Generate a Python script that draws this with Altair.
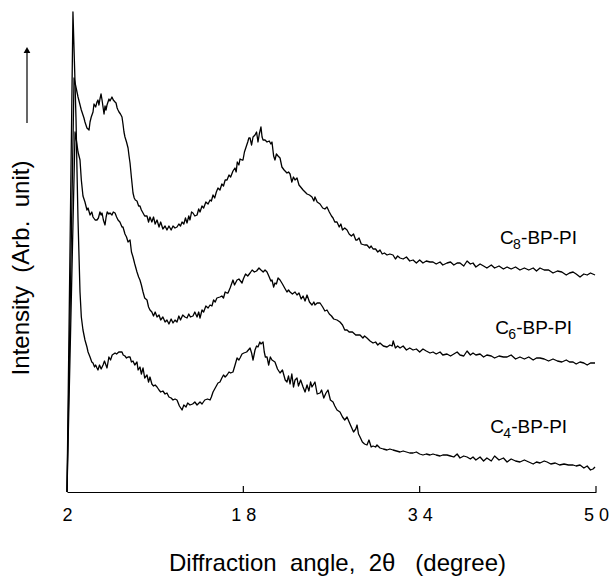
import altair as alt
import pandas as pd

# ---------------- data ----------------
C8_ANGLE = [2.00, 2.64, 3.00, 3.30, 3.54, 3.63, 3.81, 4.00, 4.09, 4.20, 4.36, 4.45, 4.60, 4.72, 4.81, 4.90, 4.99, 5.09, 5.18, 5.27, 5.36, 5.45, 5.54, 5.63, 5.72, 5.81, 5.90, 6.08, 6.20, 6.36, 6.45, 6.55, 6.63, 6.72, 6.85, 6.99, 7.08, 7.17, 7.26, 7.40, 7.54, 7.63, 7.72, 7.85, 7.99, 8.10, 8.20, 8.35, 8.50, 8.62, 8.75, 8.90, 9.05, 9.26, 9.40, 9.53, 9.70, 9.85, 10.00, 10.17, 10.35, 10.50, 10.70, 10.90, 11.07, 11.25, 11.45, 11.62, 11.80, 11.98, 12.15, 12.30, 12.44, 12.60, 12.75, 12.89, 13.05, 13.16, 13.30, 13.43, 13.60, 13.80, 13.95, 14.07, 14.25, 14.40, 14.60, 14.80, 14.98, 15.10, 15.25, 15.40, 15.55, 15.70, 15.88, 16.05, 16.20, 16.35, 16.52, 16.70, 16.85, 17.06, 17.24, 17.35, 17.45, 17.60, 17.70, 17.88, 17.97, 18.10, 18.25, 18.40, 18.50, 18.61, 18.75, 18.88, 19.06, 19.20, 19.33, 19.45, 19.60, 19.70, 19.79, 19.97, 20.15, 20.35, 20.50, 20.60, 20.75, 20.87, 21.00, 21.15, 21.33, 21.50, 21.70, 21.96, 22.10, 22.24, 22.40, 22.55, 22.69, 22.87, 23.05, 23.20, 23.42, 23.60, 23.78, 24.00, 24.23, 24.40, 24.50, 24.70, 24.96, 25.20, 25.40, 25.59, 25.80, 26.00, 26.14, 26.30, 26.50, 26.70, 26.85, 27.00, 27.20, 27.41, 27.60, 27.80, 28.00, 28.20, 28.32, 28.50, 28.70, 29.00, 29.22, 29.45, 29.60, 29.77, 30.00, 30.20, 30.40, 30.60, 30.80, 31.04, 31.30, 31.58, 31.80, 32.00, 32.22, 32.50, 32.80, 33.10, 33.40, 33.70, 34.00, 34.30, 34.60, 34.94, 35.21, 35.50, 35.85, 36.10, 36.48, 36.80, 37.10, 37.40, 37.66, 38.00, 38.30, 38.60, 38.84, 39.10, 39.48, 39.80, 40.10, 40.50, 40.80, 41.20, 41.60, 41.93, 42.30, 42.70, 43.10, 43.50, 43.90, 44.30, 44.60, 44.92, 45.30, 45.70, 46.10, 46.50, 46.90, 47.30, 47.60, 47.92, 48.20, 48.55, 48.90, 49.20, 49.50, 49.91]
C8_INT = [0, 414, 395, 382, 374, 370, 364, 362, 370, 375, 380, 388, 385, 390, 392, 387, 393, 398, 392, 385, 378, 386, 382, 387, 390, 393, 391, 395, 392, 390, 389, 384, 382, 380, 378, 375, 368, 360, 355, 350, 344, 336, 329, 314, 299, 294, 292, 291, 286, 286, 282, 279, 276, 276, 270, 275, 270, 275, 268, 272, 265, 270, 263, 266, 262, 266, 262, 266, 264, 265, 268, 266, 270, 268, 274, 269, 276, 272, 280, 279, 276, 277, 283, 280, 286, 284, 290, 288, 292, 291, 297, 294, 300, 304, 302, 308, 306, 312, 312, 317, 315, 321, 324, 320, 330, 327, 333, 332, 332, 340, 345, 350, 354, 354, 347, 355, 357, 360, 350, 358, 365, 355, 352, 352, 350, 351, 348, 350, 336, 332, 338, 336, 334, 325, 322, 319, 320, 318, 310, 315, 312, 314, 307, 305, 302, 300, 298, 297, 295, 291, 295, 290, 288, 284, 283, 285, 280, 276, 274, 270, 270, 265, 268, 262, 264, 262, 258, 256, 258, 252, 252, 254, 248, 247, 247, 244, 246, 243, 243, 240, 242, 238, 239, 237, 238, 237, 233, 236, 234, 233, 235, 231, 232, 229, 232, 229, 231, 230, 230, 228, 230, 227, 229, 230, 227, 229, 229, 226, 231, 228, 229, 225, 228, 226, 224, 227, 224, 226, 223, 225, 223, 225, 222, 224, 222, 224, 221, 224, 222, 222, 219, 221, 220, 217, 219, 220, 218, 215, 218, 217, 219, 217]

C6_ANGLE = [2.00, 2.73, 2.85, 3.00, 3.18, 3.30, 3.45, 3.63, 3.81, 3.91, 4.09, 4.25, 4.36, 4.55, 4.72, 4.85, 4.99, 5.10, 5.18, 5.30, 5.45, 5.55, 5.65, 5.80, 5.90, 6.08, 6.20, 6.36, 6.50, 6.63, 6.80, 6.99, 7.08, 7.26, 7.40, 7.54, 7.72, 7.85, 7.99, 8.15, 8.35, 8.50, 8.62, 8.75, 8.90, 9.05, 9.26, 9.40, 9.53, 9.70, 9.85, 10.00, 10.17, 10.35, 10.50, 10.70, 10.90, 11.07, 11.25, 11.45, 11.62, 11.80, 11.98, 12.15, 12.30, 12.50, 12.70, 12.89, 13.05, 13.20, 13.43, 13.60, 13.80, 13.95, 14.07, 14.25, 14.40, 14.60, 14.80, 14.98, 15.15, 15.30, 15.45, 15.60, 15.88, 16.05, 16.20, 16.35, 16.52, 16.61, 16.80, 17.06, 17.20, 17.43, 17.60, 17.88, 18.00, 18.20, 18.40, 18.61, 18.80, 19.00, 19.20, 19.42, 19.60, 19.80, 19.97, 20.15, 20.35, 20.50, 20.60, 20.75, 20.87, 21.00, 21.15, 21.33, 21.55, 21.75, 21.96, 22.10, 22.24, 22.45, 22.69, 22.87, 23.05, 23.25, 23.42, 23.60, 23.78, 24.00, 24.23, 24.40, 24.50, 24.70, 24.96, 25.20, 25.40, 25.59, 25.80, 26.00, 26.20, 26.50, 26.77, 27.00, 27.20, 27.41, 27.60, 27.90, 28.20, 28.59, 28.85, 29.00, 29.22, 29.50, 29.77, 30.00, 30.20, 30.40, 30.70, 31.04, 31.30, 31.50, 31.60, 31.80, 32.00, 32.22, 32.50, 32.80, 33.10, 33.40, 33.70, 34.00, 34.30, 34.60, 34.94, 35.21, 35.50, 35.85, 36.10, 36.48, 36.80, 37.10, 37.40, 37.66, 38.00, 38.30, 38.60, 38.84, 39.10, 39.48, 39.80, 40.10, 40.50, 40.80, 41.20, 41.60, 41.93, 42.30, 42.70, 43.10, 43.50, 43.90, 44.30, 44.60, 44.92, 45.30, 45.70, 46.10, 46.50, 46.90, 47.30, 47.60, 47.92, 48.20, 48.55, 48.90, 49.20, 49.50, 49.91]
C6_INT = [0, 360, 352, 340, 332, 312, 296, 290, 282, 284, 277, 280, 275, 272, 272, 274, 280, 277, 279, 272, 267, 275, 280, 278, 279, 277, 280, 279, 275, 272, 270, 265, 265, 258, 255, 250, 252, 240, 235, 228, 220, 215, 212, 207, 200, 194, 192, 185, 182, 180, 176, 180, 175, 177, 172, 175, 170, 172, 168, 173, 169, 172, 170, 176, 172, 177, 175, 174, 178, 175, 176, 180, 175, 180, 174, 182, 180, 186, 184, 187, 186, 192, 190, 194, 195, 196, 194, 200, 199, 199, 204, 212, 207, 212, 213, 209, 213, 218, 216, 219, 222, 220, 221, 224, 222, 220, 222, 220, 215, 211, 212, 205, 209, 208, 214, 212, 208, 204, 200, 202, 200, 198, 200, 197, 199, 193, 196, 191, 197, 190, 187, 190, 187, 189, 189, 185, 181, 182, 178, 176, 173, 172, 170, 167, 162, 162, 160, 160, 157, 157, 154, 156, 154, 151, 149, 150, 147, 149, 146, 145, 147, 146, 151, 144, 146, 144, 146, 142, 144, 142, 143, 140, 143, 141, 139, 140, 138, 140, 137, 138, 136, 138, 140, 137, 136, 141, 137, 139, 137, 138, 135, 137, 136, 134, 136, 135, 135, 137, 133, 135, 133, 135, 132, 134, 134, 133, 131, 133, 131, 130, 132, 130, 130, 128, 130, 129, 127, 129, 129]

C4_ANGLE = [2.00, 2.54, 2.70, 2.82, 2.91, 3.00, 3.10, 3.18, 3.30, 3.45, 3.63, 3.81, 3.91, 4.09, 4.25, 4.36, 4.50, 4.60, 4.72, 4.81, 4.95, 5.10, 5.27, 5.40, 5.63, 5.80, 5.95, 6.10, 6.36, 6.50, 6.70, 6.99, 7.10, 7.26, 7.40, 7.54, 7.72, 7.85, 7.99, 8.15, 8.35, 8.45, 8.62, 8.75, 8.90, 9.05, 9.26, 9.40, 9.53, 9.70, 9.85, 10.00, 10.17, 10.35, 10.50, 10.70, 10.90, 11.07, 11.25, 11.45, 11.62, 11.80, 11.98, 12.20, 12.44, 12.60, 12.80, 12.95, 13.16, 13.40, 13.60, 13.80, 14.07, 14.25, 14.50, 14.75, 14.98, 15.10, 15.25, 15.45, 15.70, 15.88, 16.05, 16.20, 16.35, 16.52, 16.70, 16.85, 17.06, 17.25, 17.43, 17.60, 17.70, 17.88, 18.05, 18.30, 18.61, 18.75, 18.88, 19.06, 19.20, 19.33, 19.50, 19.60, 19.79, 19.90, 20.00, 20.15, 20.30, 20.45, 20.60, 20.87, 21.10, 21.33, 21.55, 21.80, 21.96, 22.10, 22.24, 22.40, 22.55, 22.69, 22.87, 23.00, 23.20, 23.42, 23.60, 23.78, 23.95, 24.10, 24.23, 24.50, 24.70, 24.96, 25.10, 25.30, 25.50, 25.68, 25.90, 26.14, 26.30, 26.50, 26.77, 27.00, 27.20, 27.41, 27.60, 27.80, 28.00, 28.20, 28.32, 28.45, 28.59, 28.80, 29.00, 29.22, 29.40, 29.60, 29.77, 30.00, 30.13, 30.40, 30.70, 31.04, 31.30, 31.58, 31.90, 32.22, 32.50, 32.80, 33.10, 33.40, 33.70, 34.00, 34.30, 34.60, 34.94, 35.21, 35.50, 35.85, 36.10, 36.48, 36.80, 37.10, 37.40, 37.66, 38.00, 38.30, 38.60, 38.84, 39.10, 39.48, 39.80, 40.10, 40.50, 40.80, 41.20, 41.60, 41.93, 42.30, 42.70, 43.10, 43.50, 43.90, 44.30, 44.60, 44.92, 45.30, 45.56, 45.90, 46.30, 46.70, 47.10, 47.50, 47.92, 48.20, 48.55, 48.90, 49.20, 49.50, 49.73, 49.91]
C4_INT = [0, 480, 420, 372, 320, 272, 232, 200, 175, 162, 152, 145, 140, 135, 130, 129, 125, 127, 124, 122, 127, 123, 127, 131, 124, 135, 132, 137, 139, 138, 140, 140, 137, 136, 134, 135, 135, 130, 131, 127, 130, 122, 125, 118, 124, 114, 117, 110, 115, 108, 106, 107, 105, 102, 100, 101, 98, 99, 95, 94, 92, 93, 92, 86, 82, 87, 85, 89, 87, 88, 90, 87, 90, 88, 92, 93, 92, 95, 100, 104, 109, 110, 114, 117, 115, 117, 120, 119, 120, 127, 134, 132, 134, 138, 139, 140, 144, 139, 132, 142, 146, 145, 150, 148, 150, 140, 135, 135, 127, 135, 132, 130, 123, 119, 122, 112, 110, 116, 108, 118, 105, 112, 114, 106, 112, 105, 100, 107, 101, 110, 105, 110, 98, 99, 102, 94, 99, 102, 92, 90, 86, 82, 80, 75, 72, 75, 70, 65, 60, 63, 67, 58, 55, 50, 48, 47, 52, 45, 46, 45, 47, 44, 43, 42, 43, 42, 41, 40, 41, 40, 39, 39, 40, 38, 37, 38, 37, 38, 37, 36, 37, 37, 36, 35, 38, 34, 36, 35, 33, 35, 32, 35, 31, 34, 31, 36, 32, 34, 30, 33, 31, 30, 32, 30, 28, 30, 29, 31, 30, 28, 29, 27, 28, 27, 27, 26, 27, 24, 26, 22, 23, 25]

SERIES = ["C8-BP-PI", "C6-BP-PI", "C4-BP-PI"]
LABEL_SUB = ["8", "6", "4"]
LABEL_ANGLE = [41.3, 40.85, 40.4]
LABEL_INT = [254, 164, 65]

TICK_VALUES = [2, 18, 34, 50]
TICK_LABELS = ["2", "1 8", "3 4", "5 0"]
TICK_MARKS = [18, 34, 50]

NB = "\u00a0"
X_TITLE = f"Diffraction{NB}{NB}angle,{NB}{NB}2θ{NB}{NB}{NB}(degree)"
Y_TITLE = f"Intensity{NB}{NB}(Arb.{NB}{NB}unit)"

FONT = "Liberation Sans"

# ---------------- tables ----------------
rows = []
for name, ang, inten in zip(SERIES, [C8_ANGLE, C6_ANGLE, C4_ANGLE], [C8_INT, C6_INT, C4_INT]):
    for a, v in zip(ang, inten):
        rows.append({"series": name, "angle": a, "intensity": v})
df = pd.DataFrame(rows)

labels = pd.DataFrame({"sub": LABEL_SUB, "angle": LABEL_ANGLE, "intensity": LABEL_INT,
                       "c": ["C"] * 3, "rest": ["-BP-PI"] * 3})
ticks = pd.DataFrame({"angle": TICK_MARKS})

label_expr = ""
for v, lab in zip(TICK_VALUES, TICK_LABELS):
    label_expr += f"datum.value == {v} ? '{lab}' : "
label_expr += "''"

xs = alt.Scale(domain=[2, 50], nice=False, zero=False)
ys = alt.Scale(domain=[0, 480], nice=False, zero=True)

lines = alt.Chart(df).mark_line(color="black", strokeWidth=1.3, strokeJoin="round").encode(
    x=alt.X("angle:Q", scale=xs, axis=alt.Axis(
        values=TICK_VALUES, labelExpr=label_expr, ticks=False, grid=False,
        domainColor="black", domainWidth=1.2, labelFont=FONT, labelFontSize=18,
        labelColor="black", labelPadding=14, labelFlush=False,
        title=X_TITLE, titleFont=FONT, titleFontSize=24, titleFontWeight="normal",
        titleColor="black", titleBaseline="alphabetic", titleY=78, titleX=270)),
    y=alt.Y("intensity:Q", scale=ys, axis=None),
    detail="series:N",
)

tick_marks = alt.Chart(ticks).mark_rule(color="black", strokeWidth=1.2).encode(
    x=alt.X("angle:Q", scale=xs), y=alt.value(480), y2=alt.value(474))

lab_c = alt.Chart(labels).mark_text(align="left", baseline="middle", font=FONT, fontSize=19, color="black").encode(
    x=alt.X("angle:Q", scale=xs), y=alt.Y("intensity:Q", scale=ys), text="c:N")
lab_sub = alt.Chart(labels).mark_text(align="left", baseline="middle", font=FONT, fontSize=14, color="black", dx=13, dy=7).encode(
    x=alt.X("angle:Q", scale=xs), y=alt.Y("intensity:Q", scale=ys), text="sub:N")
lab_rest = alt.Chart(labels).mark_text(align="left", baseline="middle", font=FONT, fontSize=19, color="black", dx=21).encode(
    x=alt.X("angle:Q", scale=xs), y=alt.Y("intensity:Q", scale=ys), text="rest:N")

ytitle = alt.Chart(pd.DataFrame({"t": [Y_TITLE]})).mark_text(
    angle=270, font=FONT, fontSize=24, color="black", baseline="middle", align="center").encode(
    x=alt.value(-45), y=alt.value(256), text="t:N")
arrow = alt.Chart(pd.DataFrame({"t": [Y_TITLE]})).mark_rule(color="black", strokeWidth=1.2).encode(
    x=alt.value(-40), y=alt.value(111), y2=alt.value(40))
head = alt.Chart(pd.DataFrame({"t": [Y_TITLE]})).mark_point(
    shape="triangle-up", filled=True, color="black", size=45, opacity=1).encode(
    x=alt.value(-40), y=alt.value(38))

chart = alt.layer(lines, tick_marks, lab_c, lab_sub, lab_rest, ytitle, arrow, head).properties(
    width=529, height=480,
    autosize=alt.AutoSizeParams(type="none"),
    padding={"left": 67, "top": 12, "right": 17, "bottom": 84},
    background="white",
).configure_view(stroke=None)

chart.save("out.html", embed_options={"renderer": "svg", "actions": False})
